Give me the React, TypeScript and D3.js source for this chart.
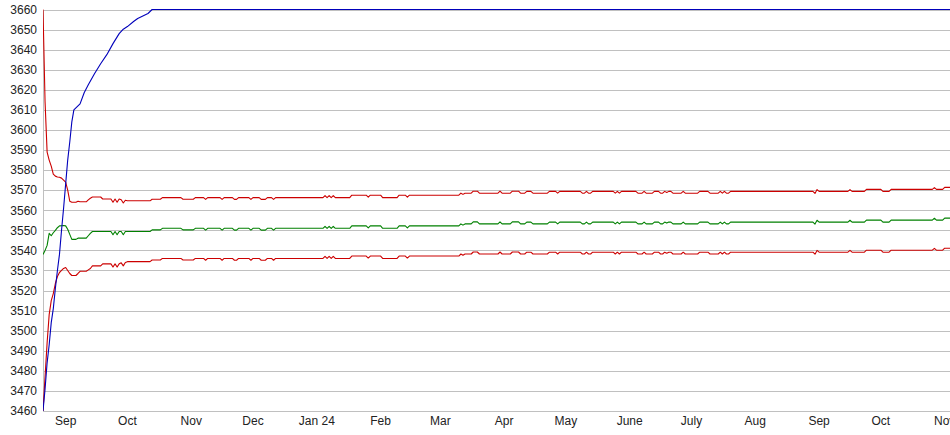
import React from "react";
import * as d3 from "d3";

// ---- data -------------------------------------------------------------
const bandDates: string[] = [
  "2023-08-21","2023-08-22","2023-08-23","2023-08-24","2023-08-25","2023-08-26","2023-08-27","2023-08-28","2023-08-29","2023-08-30",
  "2023-08-31","2023-09-01","2023-09-02","2023-09-03","2023-09-04","2023-09-05","2023-09-06","2023-09-07","2023-09-08","2023-09-11",
  "2023-09-12","2023-09-13","2023-09-14","2023-09-18","2023-09-19","2023-09-23","2023-09-24","2023-09-25","2023-09-26","2023-09-27",
  "2023-09-28","2023-09-29","2023-09-30","2023-10-01","2023-10-12","2023-10-13","2023-10-17","2023-10-18","2023-10-27","2023-10-28",
  "2023-11-02","2023-11-03","2023-11-07","2023-11-08","2023-11-09","2023-11-15","2023-11-16","2023-11-17","2023-11-21","2023-11-22",
  "2023-11-23","2023-11-24","2023-11-29","2023-11-30","2023-12-01","2023-12-04","2023-12-05","2023-12-07","2023-12-08","2023-12-10",
  "2023-12-11","2023-12-12","2024-01-04","2024-01-05","2024-01-06","2024-01-07","2024-01-08","2024-01-09","2024-01-10","2024-01-17",
  "2024-01-18","2024-01-25","2024-01-26","2024-01-27","2024-02-01","2024-02-02","2024-02-09","2024-02-10","2024-02-13","2024-02-14",
  "2024-02-15","2024-03-10","2024-03-11","2024-03-12","2024-03-13","2024-03-16","2024-03-17","2024-03-19","2024-03-20","2024-03-29",
  "2024-03-30","2024-03-31","2024-04-04","2024-04-05","2024-04-08","2024-04-09","2024-04-11","2024-04-12","2024-04-14","2024-04-15",
  "2024-04-22","2024-04-23","2024-04-26","2024-04-27","2024-04-28","2024-05-08","2024-05-09","2024-05-10","2024-05-11","2024-05-12",
  "2024-05-13","2024-05-14","2024-05-24","2024-05-25","2024-05-26","2024-05-27","2024-05-28","2024-06-04","2024-06-05","2024-06-07",
  "2024-06-08","2024-06-09","2024-06-12","2024-06-13","2024-06-15","2024-06-16","2024-06-17","2024-06-18","2024-06-19","2024-06-20",
  "2024-06-21","2024-06-22","2024-06-26","2024-06-27","2024-06-28","2024-07-04","2024-07-05","2024-07-09","2024-07-10","2024-07-14",
  "2024-07-15","2024-07-16","2024-07-17","2024-07-18","2024-07-19","2024-07-20","2024-08-29","2024-08-30","2024-08-31","2024-09-01",
  "2024-09-15","2024-09-16","2024-09-17","2024-09-23","2024-09-24","2024-10-01","2024-10-02","2024-10-05","2024-10-06","2024-10-26",
  "2024-10-27","2024-10-28","2024-10-31","2024-11-01","2024-11-04",
];

const upperBand: number[] = [
  3660, 3614, 3589, 3585, 3582, 3578, 3577, 3576.6, 3576.4, 3576,
  3575, 3574, 3570, 3564.5, 3564, 3564, 3564, 3564.5, 3564.2, 3564.2,
  3565.2, 3566, 3566.6, 3566.6, 3565.6, 3565.6, 3564, 3565.6, 3564, 3565.6,
  3565.2, 3563.6, 3565, 3564.7, 3564.7, 3565.5, 3565.5, 3566.3, 3566.3, 3565.5,
  3565.5, 3566.3, 3566.3, 3565.4, 3566.3, 3566.3, 3565.4, 3566.3, 3566.3, 3565.4,
  3565.4, 3566.3, 3566.3, 3565.4, 3566.3, 3566.3, 3565.4, 3565.4, 3566.3, 3566.3,
  3565.4, 3566.3, 3566.3, 3567.3, 3566.3, 3567.3, 3566.3, 3567.3, 3566.3, 3566.3,
  3567.5, 3567.5, 3566.5, 3567.5, 3567.5, 3566.3, 3566.3, 3567.5, 3567.5, 3566.5,
  3567.5, 3567.5, 3568.5, 3567.9, 3568.5, 3568.5, 3569.5, 3569.5, 3568.5, 3568.5,
  3569.5, 3568.5, 3568.5, 3569.5, 3569.5, 3568.5, 3568.5, 3569.4, 3569.4, 3568.5,
  3568.5, 3569.4, 3569.4, 3568.5, 3569.4, 3569.4, 3568.5, 3568.5, 3569.4, 3568.5,
  3568.5, 3569.4, 3569.4, 3568.5, 3569.4, 3568.5, 3569.4, 3569.4, 3568.5, 3568.5,
  3569.4, 3568.5, 3568.5, 3569.4, 3569.4, 3568.5, 3568.5, 3569.4, 3568.9, 3569.4,
  3569.4, 3568.5, 3568.5, 3569.4, 3568.5, 3568.5, 3569.4, 3569.4, 3568.5, 3568.5,
  3569.4, 3568.5, 3569.4, 3568.5, 3568.5, 3569.4, 3569.4, 3568.4, 3570.3, 3569.4,
  3569.4, 3570.3, 3569.4, 3569.4, 3570.4, 3570.4, 3569.4, 3569.4, 3570.4, 3570.4,
  3571.3, 3570.4, 3570.4, 3571.4, 3571.4,
];

const middleLine: number[] = [
  3538, 3540, 3542.5, 3548.5, 3547.3, 3548.8, 3550, 3551.3, 3552.2, 3552.3,
  3552.4, 3552.2, 3550.5, 3548, 3545.5, 3545.5, 3545.5, 3546.1, 3546.1, 3546.1,
  3547.3, 3548.5, 3549.4, 3549.4, 3549.4, 3549.4, 3547.8, 3549.4, 3547.8, 3549.4,
  3549.4, 3547.8, 3549.4, 3549.4, 3549.4, 3550.2, 3550.2, 3551, 3551, 3550.2,
  3550.2, 3551, 3551, 3550.1, 3551, 3551, 3550.1, 3551, 3551, 3550.1,
  3550.1, 3551, 3551, 3550.1, 3551, 3551, 3550.1, 3550.1, 3551, 3551,
  3550.1, 3551, 3551, 3552, 3551, 3552, 3551, 3552, 3551, 3551,
  3552.2, 3552.2, 3551.2, 3552.2, 3552.2, 3551, 3551, 3552.2, 3552.2, 3551.2,
  3552.2, 3552.2, 3553.2, 3552.6, 3553.2, 3553.2, 3554.2, 3554.2, 3553.2, 3553.2,
  3554.2, 3553.2, 3553.2, 3554.2, 3554.2, 3553.2, 3553.2, 3554.1, 3554.1, 3553.2,
  3553.2, 3554.1, 3554.1, 3553.2, 3554.1, 3554.1, 3553.2, 3553.2, 3554.1, 3553.2,
  3553.2, 3554.1, 3554.1, 3553.2, 3554.1, 3553.2, 3554.1, 3554.1, 3553.2, 3553.2,
  3554.1, 3553.2, 3553.2, 3554.1, 3554.1, 3553.2, 3553.2, 3554.1, 3553.6, 3554.1,
  3554.1, 3553.2, 3553.2, 3554.1, 3553.2, 3553.2, 3554.1, 3554.1, 3553.2, 3553.2,
  3554.1, 3553.2, 3554.1, 3553.2, 3553.2, 3554.1, 3554.1, 3553.1, 3555, 3554.1,
  3554.1, 3555, 3554.1, 3554.1, 3555.1, 3555.1, 3554.1, 3554.1, 3555.1, 3555.1,
  3556, 3555.1, 3555.1, 3556.1, 3556.1,
];

const lowerBand: number[] = [
  3460, 3477, 3494, 3508, 3515, 3518.5, 3523.5, 3527, 3529, 3530,
  3531, 3531.5, 3530, 3528.5, 3527.5, 3527.5, 3527.5, 3528.5, 3529.6, 3529.6,
  3530.3, 3531, 3532.3, 3532.3, 3533.3, 3533.3, 3531.7, 3533.3, 3531.7, 3533.3,
  3533.8, 3532.3, 3534, 3534.4, 3534.4, 3535.2, 3535.2, 3536, 3536, 3535.2,
  3535.2, 3536, 3536, 3535.1, 3536, 3536, 3535.1, 3536, 3536, 3535.1,
  3535.1, 3536, 3536, 3535.1, 3536, 3536, 3535.1, 3535.1, 3536, 3536,
  3535.1, 3536, 3536, 3537, 3536, 3537, 3536, 3537, 3536, 3536,
  3537.2, 3537.2, 3536.2, 3537.2, 3537.2, 3536, 3536, 3537.2, 3537.2, 3536.2,
  3537.2, 3537.2, 3538.2, 3537.6, 3538.2, 3538.2, 3539.2, 3539.2, 3538.2, 3538.2,
  3539.2, 3538.2, 3538.2, 3539.2, 3539.2, 3538.2, 3538.2, 3539.1, 3539.1, 3538.2,
  3538.2, 3539.1, 3539.1, 3538.2, 3539.1, 3539.1, 3538.2, 3538.2, 3539.1, 3538.2,
  3538.2, 3539.1, 3539.1, 3538.2, 3539.1, 3538.2, 3539.1, 3539.1, 3538.2, 3538.2,
  3539.1, 3538.2, 3538.2, 3539.1, 3539.1, 3538.2, 3538.2, 3539.1, 3538.6, 3539.1,
  3539.1, 3538.2, 3538.2, 3539.1, 3538.2, 3538.2, 3539.1, 3539.1, 3538.2, 3538.2,
  3539.1, 3538.2, 3539.1, 3538.2, 3538.2, 3539.1, 3539.1, 3538.1, 3540, 3539.1,
  3539.1, 3540, 3539.1, 3539.1, 3540.1, 3540.1, 3539.1, 3539.1, 3540.1, 3540.1,
  3541, 3540.1, 3540.1, 3541.1, 3541.1,
];

const blueDates: string[] = [
  "2023-08-21","2023-08-22","2023-08-23","2023-08-24","2023-08-25","2023-08-26","2023-08-27","2023-08-28",
  "2023-08-29","2023-08-30","2023-08-31","2023-09-01","2023-09-02","2023-09-03","2023-09-04","2023-09-05",
  "2023-09-08","2023-09-10","2023-09-12","2023-09-15","2023-09-18","2023-09-21","2023-09-24","2023-09-27",
  "2023-09-29","2023-10-01","2023-10-04","2023-10-06","2023-10-09","2023-10-11","2023-10-13","2024-11-04",
];
const blueLine: number[] = [
  3460, 3471, 3484, 3493, 3504, 3511, 3521, 3530,
  3538, 3550, 3561, 3573, 3585, 3594, 3604, 3610,
  3613, 3618.5, 3622.5, 3628, 3633, 3637.5, 3643, 3648,
  3650.2, 3651.5, 3654, 3655.5, 3657, 3658, 3660, 3660,
];

const yTickValues: number[] = [
  3460, 3470, 3480, 3490, 3500, 3510, 3520, 3530, 3540, 3550, 3560,
  3570, 3580, 3590, 3600, 3610, 3620, 3630, 3640, 3650, 3660,
];

const monthTickDates: string[] = [
  "2023-09-01","2023-10-01","2023-11-01","2023-12-01","2024-01-01","2024-02-01","2024-03-01","2024-04-01",
  "2024-05-01","2024-06-01","2024-07-01","2024-08-01","2024-09-01","2024-10-01","2024-11-01",
];
const monthTickLabels: string[] = [
  "Sep","Oct","Nov","Dec","Jan 24","Feb","Mar","Apr","May","June","July","Aug","Sep","Oct","Nov",
];

// ---- chart ------------------------------------------------------------
const W = 950;
const H = 435;
const plotLeft = 43;
const plotRight = 950;
const plotTop = 9.5;
const plotBottom = 411;

const parse = d3.timeParse("%Y-%m-%d");

export default function App() {
  const x = d3
    .scaleTime()
    .domain([new Date(2023, 7, 21), new Date(2024, 10, 3, 14)])
    .range([plotLeft, plotRight]);
  const y = d3.scaleLinear().domain([3460, 3660]).range([plotBottom, plotTop]);

  const line = d3
    .line<[Date, number]>()
    .x((d) => x(d[0]))
    .y((d) => y(d[1]));

  const band = (vals: number[]) =>
    bandDates.map((s, i) => [parse(s) as Date, vals[i]] as [Date, number]);
  const blue = blueDates.map((s, i) => [parse(s) as Date, blueLine[i]] as [Date, number]);

  const font = "'Liberation Sans', Arial, sans-serif";

  return (
    <svg
      width={W}
      height={H}
      style={{ position: "absolute", left: 0, top: 0, background: "#fff" }}
    >
      <defs>
        <clipPath id="plotClip">
          <rect x={plotLeft} y={0} width={plotRight - plotLeft} height={plotBottom + 1} />
        </clipPath>
      </defs>
      {/* grid */}
      {yTickValues.map((v) => {
        const yy = Math.round(y(v)) + 0.5;
        return (
          <line
            key={v}
            x1={plotLeft}
            x2={plotRight}
            y1={yy}
            y2={yy}
            stroke="#c0c0c0"
            strokeWidth={1}
          />
        );
      })}
      <line
        x1={plotLeft + 0.5}
        x2={plotLeft + 0.5}
        y1={Math.round(plotTop)}
        y2={Math.round(plotBottom) + 1}
        stroke="#c0c0c0"
        strokeWidth={1}
      />
      {/* y labels */}
      {yTickValues.map((v) => (
        <text
          key={"t" + v}
          x={37}
          y={y(v)}
          dy="0.36em"
          textAnchor="end"
          fontFamily={font}
          fontSize={12}
          fill="#222"
        >
          {v}
        </text>
      ))}
      {/* x labels */}
      {monthTickDates.map((s, i) => (
        <text
          key={"m" + i}
          x={x(parse(s) as Date)}
          y={425}
          textAnchor="middle"
          fontFamily={font}
          fontSize={12}
          fill="#222"
        >
          {monthTickLabels[i]}
        </text>
      ))}
      {/* series */}
      <g clipPath="url(#plotClip)" fill="none" strokeWidth={1.1} strokeLinejoin="round">
        <path d={line(band(upperBand)) || ""} stroke="#cc0000" />
        <path d={line(band(lowerBand)) || ""} stroke="#cc0000" />
        <path d={line(band(middleLine)) || ""} stroke="#008000" />
        <path d={line(blue) || ""} stroke="#0000bb" />
      </g>
    </svg>
  );
}
